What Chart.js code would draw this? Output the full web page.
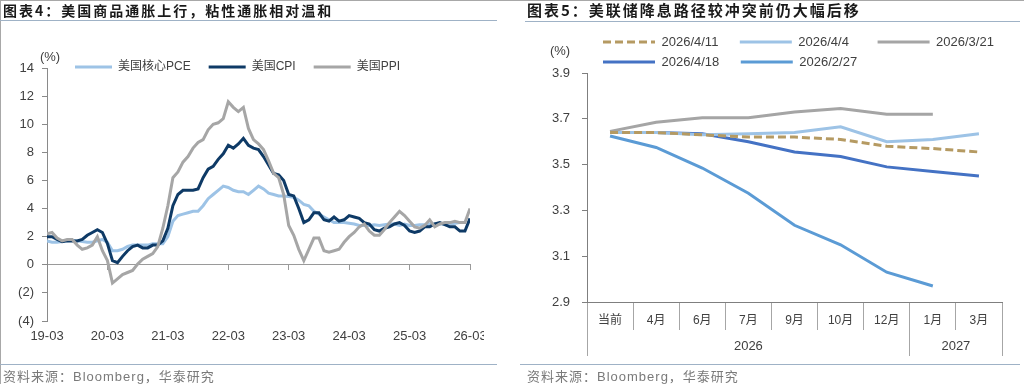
<!DOCTYPE html>
<html>
<head>
<meta charset="utf-8">
<script src="https://cdn.jsdelivr.net/npm/chart.js@4.4.1/dist/chart.umd.min.js"></script>
<style>
  body { margin: 0; width: 1024px; height: 384px; position: relative; background: #fff; overflow: hidden;
         font-family: 'Liberation Sans', 'Noto Sans CJK SC', sans-serif; }
  .title { position: absolute; top: 0; line-height: 20px; font-family: 'Noto Sans CJK SC'; font-weight: bold; color: #1a1a1a; white-space: nowrap; }
  .rule { position: absolute; height: 1px; background: #9fb2c6; }
  .src { position: absolute; top: 369px; line-height: 16px; font-size: 13px; color: #7a7a7a; letter-spacing: 1px; white-space: nowrap;
         font-family: 'Liberation Sans', 'Noto Sans CJK SC', sans-serif; }
  #w1 { position: absolute; left: 0; top: 0; width: 484px; height: 384px; overflow: hidden; }
  #w2 { position: absolute; left: 512px; top: 0; width: 512px; height: 384px; }
  .frame-top { position: absolute; left: 0; top: 0; width: 1024px; height: 1px; background: #a8a8a8; }
  .frame-left { position: absolute; left: 0; top: 0; width: 1px; height: 384px; background: #a8a8a8; }
</style>
</head>
<body>
<div id="w1"><canvas id="inflation" width="500" height="384"></canvas></div>
<div id="w2"><canvas id="fedpath" width="512" height="384"></canvas></div>

<div class="frame-top"></div>
<div class="frame-left"></div>
<div class="title" style="left:3px;font-size:14px;letter-spacing:2px;">图表4：美国商品通胀上行，粘性通胀相对温和</div>
<div class="rule" style="left:0;top:20px;width:497px;"></div>
<div class="rule" style="left:0;top:364px;width:497px;"></div>
<div class="src" style="left:3px;">资料来源：Bloomberg，华泰研究</div>

<div class="title" style="left:527px;font-size:15px;letter-spacing:2px;">图表5：美联储降息路径较冲突前仍大幅后移</div>
<div class="rule" style="left:525px;top:21px;width:495px;"></div>
<div class="rule" style="left:520px;top:364px;width:500px;"></div>
<div class="src" style="left:527px;">资料来源：Bloomberg，华泰研究</div>

<script>
// ---- chart 4 : monthly YoY, 2019-03 .. 2026-03 (index = months since 2019-03)
var yearTicks = ["19-03", "20-03", "21-03", "22-03", "23-03", "24-03", "25-03", "26-03"];
var names4 = ["美国核心PCE", "美国CPI", "美国PPI"];

var corePce = [
  1.7, 1.6, 1.6, 1.65, 1.7, 1.75, 1.7, 1.65, 1.6, 1.6,
  1.7, 1.8, 1.6, 1.0, 1.0, 1.1, 1.3, 1.4, 1.4, 1.4, 1.4, 1.5,
  1.5, 1.5, 2.0, 3.1, 3.5, 3.6, 3.7, 3.8, 3.8, 4.2, 4.7, 5.0,
  5.3, 5.6, 5.5, 5.3, 5.2, 5.2, 5.0, 5.3, 5.6, 5.4, 5.1, 5.0,
  4.9, 4.9, 4.85, 4.8, 4.6, 4.3, 4.2, 3.8, 3.6, 3.4, 3.2, 3.0,
  3.0, 3.0, 2.95, 2.9, 2.8, 2.8, 2.8, 2.85, 2.8, 2.85, 2.9, 2.9,
  2.8, 2.9, 2.8, 2.8, 2.85, 2.85, 2.9, 2.9, 2.9, 2.9, 2.9, 2.95,
  3.0, 3.0, null
];
var cpi = [
  2.0, 2.0, 1.8, 1.65, 1.7, 1.7, 1.7, 1.8, 2.1, 2.3,
  2.5, 2.3, 1.5, 0.3, 0.15, 0.6, 1.0, 1.3, 1.4, 1.2, 1.2, 1.4,
  1.4, 1.7, 2.6, 4.2, 5.0, 5.3, 5.3, 5.3, 5.4, 6.2, 6.8, 7.0,
  7.5, 7.9, 8.5, 8.3, 8.6, 9.0, 8.5, 8.3, 8.2, 7.7, 7.1, 6.5,
  6.4, 6.0, 5.0, 4.9, 4.0, 3.0, 3.2, 3.7, 3.7, 3.2, 3.1, 3.4,
  3.1, 3.2, 3.5, 3.4, 3.3, 3.0, 2.9, 2.5, 2.4, 2.6, 2.7, 2.9,
  3.0, 2.8, 2.4, 2.3, 2.4, 2.7, 2.7, 2.9, 3.0, 2.85, 2.7, 2.7,
  2.4, 2.4, 3.3
];
var ppi = [
  2.2, 2.3, 1.9, 1.7, 1.8, 1.8, 1.4, 1.1, 1.2, 1.4,
  2.0, 1.0, 0.3, -1.3, -1.0, -0.7, -0.55, -0.4, 0.05, 0.4, 0.6, 0.8,
  1.3, 2.6, 4.2, 6.2, 6.6, 7.3, 7.7, 8.3, 8.7, 8.9, 9.6, 10.0,
  10.1, 10.4, 11.6, 11.2, 10.9, 11.2, 9.7, 8.9, 8.6, 8.2, 7.4, 6.5,
  6.2, 5.0, 2.8, 2.1, 1.1, 0.3, 1.1, 1.9, 1.9, 1.0, 0.9, 1.0,
  1.1, 1.6, 2.0, 2.3, 2.7, 2.9, 2.4, 2.1, 2.1, 2.5, 3.0, 3.4,
  3.8, 3.5, 3.1, 2.7, 2.6, 2.8, 3.2, 2.7, 2.9, 3.0, 3.0, 3.1,
  3.0, 3.0, 4.0
];

// ---- chart 5 : implied policy-rate path
var pathCats = ["当前", "4月", "6月", "7月", "9月", "10月", "12月", "1月", "3月"];
var pathYears = ["2026", "2027"];
var pathYearSpan = [7, 2];
var names5 = ["2026/4/11", "2026/4/4", "2026/3/21", "2026/4/18", "2026/2/27"];

var path0411 = [3.64, 3.64, 3.63, 3.62, 3.62, 3.61, 3.58, 3.57, 3.555];
var path0404 = [3.64, 3.64, 3.63, 3.635, 3.64, 3.665, 3.60, 3.61, 3.635];
var path0321 = [3.645, 3.685, 3.705, 3.705, 3.73, 3.745, 3.72, 3.72, null];
var path0418 = [3.64, 3.64, 3.635, 3.60, 3.555, 3.535, 3.49, 3.47, 3.45];
var path0227 = [3.625, 3.575, 3.485, 3.375, 3.235, 3.15, 3.03, 2.97, null];

Chart.defaults.font.family = "'Liberation Sans', 'Noto Sans CJK SC', sans-serif";
Chart.defaults.color = "#404040";
Chart.defaults.animation = false;

// legend is drawn where we put it and takes no layout room
var legendSpot = {
  id: "legendSpot",
  beforeLayout: function (chart) {
    var lg = chart.legend;
    if (lg && !lg._spotted) {
      var fit = lg.fit;
      lg.fit = function () { fit.call(this); this.height = 0; };
      lg._spotted = true;
    }
  },
  afterLayout: function (chart, args, o) {
    var lg = chart.legend;
    lg.left = o.left; lg.right = o.right; lg.top = o.top; lg.bottom = o.top + o.height;
    lg.width = o.right - o.left; lg.height = o.height;
  }
};

var unitLabel = {
  id: "unitLabel",
  afterDraw: function (chart, args, o) {
    var ctx = chart.ctx, a = chart.chartArea;
    ctx.save();
    ctx.font = "13px 'Liberation Sans'";
    ctx.fillStyle = "#404040";
    ctx.textAlign = "center";
    ctx.textBaseline = "middle";
    ctx.fillText("(%)", a.left + o.dx, a.top + o.dy);
    ctx.restore();
  }
};

function pts(arr) { return arr.map(function (v, i) { return { x: i, y: v }; }); }

var colors4 = ["#9dc3e6", "#0e3a66", "#a6a6a6"];
var series4 = [corePce, cpi, ppi];

new Chart(document.getElementById("inflation"), {
  type: "line",
  data: {
    datasets: series4.map(function (s, k) {
      return {
        label: names4[k],
        data: pts(s),
        borderColor: colors4[k],
        backgroundColor: colors4[k],
        borderWidth: 3,
        pointRadius: 0,
        tension: 0,
        order: 3 - k,
        xAxisID: "x"
      };
    })
  },
  options: {
    responsive: false,
    devicePixelRatio: 1,
    layout: { padding: { top: 68, right: 30, bottom: 33, left: 0 } },
    plugins: {
      legend: {
        align: "start",
        labels: {
          boxWidth: 37, boxHeight: 0, padding: 18, color: "#404040",
          font: { size: 12 },
          sort: function (a, b) { return a.datasetIndex - b.datasetIndex; }
        }
      },
      tooltip: { enabled: false },
      legendSpot: { left: 57, right: 500, top: 43, height: 40 },
      unitLabel: { dx: 3, dy: -11 }
    },
    scales: {
      x: {
        type: "linear", position: "bottom", min: 0, max: 84, weight: 0,
        grid: { display: false, drawTicks: false },
        border: { display: false },
        ticks: {
          stepSize: 12, padding: 8, autoSkip: false, maxRotation: 0, font: { size: 13 }, color: "#404040",
          callback: function (v) { return yearTicks[Math.round(v / 12)]; }
        },
        afterFit: function (s) { s.height = 30; }
      },
      x0: {
        type: "linear", position: { y: 0 }, min: 0, max: 84,
        grid: { drawOnChartArea: false, tickLength: 5, color: "#9a9a9a" },
        border: { color: "#9a9a9a" },
        ticks: { stepSize: 12, display: false }
      },
      y: {
        min: -4, max: 14,
        grid: { drawOnChartArea: false, tickLength: 5, color: "#8a8a8a" },
        border: { color: "#8a8a8a" },
        ticks: {
          stepSize: 2, padding: 8, font: { size: 13 }, color: "#404040",
          callback: function (v) { return v < 0 ? "(" + (-v) + ")" : String(v); }
        },
        afterFit: function (s) { s.width = 47; }
      }
    }
  },
  plugins: [legendSpot, unitLabel]
});

var colors5 = ["#b59a62", "#9dc3e6", "#a5a5a5", "#4472c4", "#5b9bd5"];
var series5 = [path0411, path0404, path0321, path0418, path0227];
var legendGap5 = [4, 6, 0, 4, 0];

// year band ticks: edges and centres of each year group
var yearEdges = [-0.5];
var yearMid = {};
var start = -0.5;
pathYearSpan.forEach(function (n, k) {
  yearMid[start + n / 2] = pathYears[k];
  start += n;
  yearEdges.push(start);
});

new Chart(document.getElementById("fedpath"), {
  type: "line",
  data: {
    labels: pathCats,
    datasets: series5.map(function (s, k) {
      return {
        label: names5[k],
        data: s,
        borderColor: colors5[k],
        backgroundColor: colors5[k],
        borderWidth: 3,
        borderDash: k === 0 ? [8, 4] : [],
        pointRadius: 0,
        tension: 0,
        xAxisID: "x"
      };
    })
  },
  options: {
    responsive: false,
    devicePixelRatio: 1,
    layout: { padding: { top: 73, right: 22, bottom: 28, left: 0 } },
    plugins: {
      legend: {
        align: "start",
        labels: {
          boxWidth: 52, boxHeight: 0, padding: 7, color: "#404040",
          font: { size: 13 },
          generateLabels: function (chart) {
            var items = Chart.defaults.plugins.legend.labels.generateLabels(chart);
            items.forEach(function (it) { it.text = it.text + " ".repeat(legendGap5[it.datasetIndex]); });
            return items;
          }
        }
      },
      tooltip: { enabled: false },
      legendSpot: { left: 84, right: 512, top: 28.5, height: 50 },
      unitLabel: { dx: -27, dy: -22 }
    },
    scales: {
      x: {
        type: "category", offset: true, weight: 0,
        grid: { offset: true, drawOnChartArea: false, tickLength: 28, color: "#a6a6a6" },
        border: { color: "#7f7f7f" },
        ticks: { padding: -17, autoSkip: false, maxRotation: 0, font: { size: 12 }, color: "#404040" },
        afterFit: function (s) { s.height = 28; }
      },
      x2: {
        type: "linear", position: "bottom", weight: 1, min: -0.5, max: 8.5,
        grid: {
          drawOnChartArea: false, tickLength: 26,
          color: function (c) { return c.tick && yearEdges.indexOf(c.tick.value) >= 0 ? "#a6a6a6" : "rgba(0,0,0,0)"; }
        },
        border: { display: false },
        afterBuildTicks: function (s) {
          var vals = yearEdges.concat(Object.keys(yearMid).map(Number)).sort(function (a, b) { return a - b; });
          s.ticks = vals.map(function (v) { return { value: v }; });
        },
        ticks: {
          padding: -17, autoSkip: false, maxRotation: 0, font: { size: 13 }, color: "#404040",
          callback: function (v) { return yearMid[v] || ""; }
        },
        afterFit: function (s) { s.height = 26; }
      },
      y: {
        min: 2.9, max: 3.9,
        grid: { drawOnChartArea: false, tickLength: 5, color: "#7f7f7f" },
        border: { color: "#7f7f7f" },
        ticks: {
          stepSize: 0.2, padding: 12, font: { size: 13 }, color: "#404040",
          callback: function (v) { return v.toFixed(1); }
        },
        afterFit: function (s) { s.width = 75; }
      }
    }
  },
  plugins: [legendSpot, unitLabel]
});
</script>
</body>
</html>
